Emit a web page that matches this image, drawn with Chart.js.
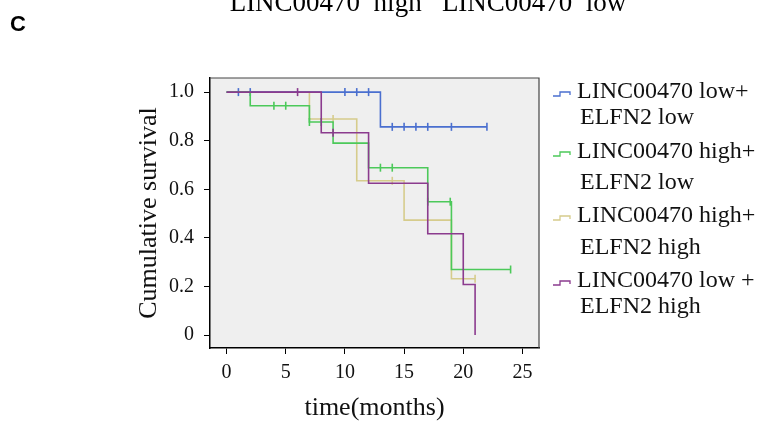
<!DOCTYPE html>
<html>
<head>
<meta charset="utf-8">
<script src="https://cdn.jsdelivr.net/npm/chart.js@4.4.1/dist/chart.umd.min.js"></script>
<style>
  html, body { margin: 0; padding: 0; background: #fff; }
  #wrap { position: relative; width: 776px; height: 425px; }
</style>
</head>
<body>
<div id="wrap"><canvas id="kmChart"></canvas></div>
<script>
// Kaplan-Meier curves (time in months, cumulative survival)
const groupNames = [
    ['LINC00470 low+', 'ELFN2 low'],
    ['LINC00470 high+', 'ELFN2 low'],
    ['LINC00470 high+', 'ELFN2 high'],
    ['LINC00470 low +', 'ELFN2 high']
];

const lowLowTimes = [0, 13, 22];
const lowLowSurv = [1, 0.857, 0.857];
const lowLowCensor = [1, 2, 10, 11, 12, 14, 15, 16, 17, 19, 22];

const highLowTimes = [0, 2, 7, 9, 12, 17, 19, 24];
const highLowSurv = [1, 0.944, 0.877, 0.79, 0.689, 0.549, 0.27, 0.27];
const highLowCensor = [4, 5, 7, 8, 13, 14, 17, 18.9, 24];

const highHighTimes = [0, 7, 11, 15, 19, 21];
const highHighSurv = [1, 0.889, 0.635, 0.473, 0.232, 0.232];
const highHighCensor = [9, 14, 21];

const lowHighTimes = [0, 8, 12, 17, 20, 21];
const lowHighSurv = [1, 0.833, 0.625, 0.417, 0.208, 0];
const lowHighCensor = [6, 9];

const xTicks = [0, 5, 10, 15, 20, 25];
const yTicks = [0, 0.2, 0.4, 0.6, 0.8, 1.0];

const colors = ['#4a6fcf', '#4cc95a', '#d6cc8c', '#8b3b8e'];
const drawOrder = [3, 2, 4, 1]; // lower = drawn on top

function stepValue(times, surv, t) {
    let v = surv[0];
    for (let i = 0; i < times.length; i++) {
        if (times[i] <= t) v = surv[i];
    }
    return v;
}

const curves = [
    [lowLowTimes, lowLowSurv, lowLowCensor],
    [highLowTimes, highLowSurv, highLowCensor],
    [highHighTimes, highHighSurv, highHighCensor],
    [lowHighTimes, lowHighSurv, lowHighCensor]
];

const datasets = [];
curves.forEach(([times, surv, cens], i) => {
    datasets.push({
        label: groupNames[i].join(' '),
        data: times.map((t, k) => ({ x: t, y: surv[k] })),
        stepped: true,
        borderColor: colors[i],
        borderWidth: 1.6,
        pointRadius: 0,
        fill: false,
        order: drawOrder[i]
    });
    datasets.push({
        label: groupNames[i].join(' ') + ' censored',
        data: cens.map(t => ({ x: t, y: stepValue(times, surv, t) })),
        showLine: false,
        pointStyle: 'line',
        rotation: 90,
        pointRadius: 4,
        pointBorderWidth: 1.6,
        borderColor: colors[i],
        backgroundColor: colors[i],
        order: drawOrder[i]
    });
});

const serif = '"Liberation Serif", "Times New Roman", serif';

const decor = {
    id: 'decor',
    beforeDraw(chart) {
        const { ctx, chartArea: a } = chart;
        ctx.save();
        ctx.fillStyle = '#fff';
        ctx.fillRect(0, 0, chart.width, chart.height);
        ctx.fillStyle = '#efefef';
        ctx.fillRect(a.left, a.top, a.right - a.left, a.bottom - a.top);
        ctx.restore();
    },
    afterDraw(chart) {
        const { ctx, chartArea: a } = chart;
        ctx.save();
        // top and right frame
        ctx.strokeStyle = '#444';
        ctx.lineWidth = 1.2;
        ctx.beginPath();
        ctx.moveTo(a.left, a.top);
        ctx.lineTo(a.right, a.top);
        ctx.lineTo(a.right, a.bottom);
        ctx.stroke();

        // legend
        const rows = [[92, 118], [152, 183], [216, 248], [281, 307]];
        ctx.font = '24px ' + serif;
        ctx.textBaseline = 'middle';
        ctx.textAlign = 'left';
        groupNames.forEach((lines, i) => {
            const y = rows[i][0] + 2;
            ctx.strokeStyle = colors[i];
            ctx.lineWidth = 1.3;
            ctx.beginPath();
            ctx.moveTo(553, y + 2);
            ctx.lineTo(560, y + 2);
            ctx.lineTo(560, y - 2);
            ctx.lineTo(570, y - 2);
            ctx.lineTo(570, y + 1);
            ctx.stroke();
            ctx.fillStyle = '#111';
            ctx.fillText(lines[0], 577, rows[i][0]);
            ctx.fillText(lines[1], 580, rows[i][1]);
        });

        // panel letter and clipped heading
        ctx.fillStyle = '#000';
        ctx.font = 'bold 22px "Liberation Sans", Arial, sans-serif';
        ctx.textBaseline = 'alphabetic';
        ctx.fillText('C', 10, 31);
        ctx.font = '27px ' + serif;
        ctx.textAlign = 'center';
        ctx.fillText('LINC00470  high   LINC00470  low', 428, 11);
        ctx.restore();
    }
};

new Chart(document.getElementById('kmChart'), {
    type: 'line',
    data: { datasets: datasets },
    plugins: [decor],
    options: {
        responsive: true,
        maintainAspectRatio: false,
        animation: false,
        layout: { padding: { left: 134, right: 237, top: 78, bottom: 1 } },
        plugins: {
            legend: { display: false },
            tooltip: { enabled: false }
        },
        scales: {
            x: {
                type: 'linear',
                min: -1.4,
                max: 26.4,
                afterBuildTicks: s => { s.ticks = xTicks.map(v => ({ value: v })); },
                afterFit: s => { s.height = 76; },
                grid: { drawOnChartArea: false, drawTicks: true, tickLength: 6, color: '#000' },
                border: { display: true, color: '#000', width: 1.5 },
                ticks: { color: '#111', padding: 7, maxRotation: 0, font: { family: serif, size: 20 } },
                title: {
                    display: true,
                    text: 'time(months)',
                    color: '#111',
                    padding: 0,
                    font: { family: serif, size: 26, weight: 'normal' }
                }
            },
            y: {
                type: 'linear',
                min: -0.053,
                max: 1.058,
                afterBuildTicks: s => { s.ticks = yTicks.map(v => ({ value: v })); },
                afterFit: s => { s.width = 76; },
                grid: { drawOnChartArea: false, drawTicks: true, tickLength: 6, color: '#000' },
                border: { display: true, color: '#000', width: 1.5 },
                ticks: {
                    color: '#111',
                    padding: 10,
                    font: { family: serif, size: 20 },
                    callback: v => (v === 0 ? '0' : v.toFixed(1))
                },
                title: {
                    display: true,
                    text: 'Cumulative survival',
                    color: '#111',
                    padding: 0,
                    font: { family: serif, size: 26, weight: 'normal' }
                }
            }
        }
    }
});
</script>
</body>
</html>
